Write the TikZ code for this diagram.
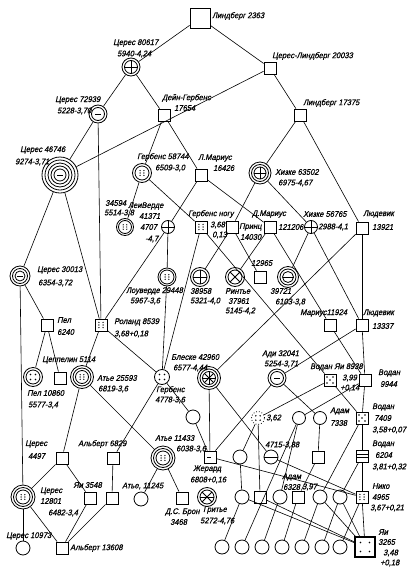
\documentclass[tikz,border=0pt]{standalone}
\usepackage{fontspec}
\newfontfamily\lblfont[FakeSlant=0.22,FakeStretch=0.92,FakeBold=0.6]{Liberation Sans}
\newcommand\ringsAt[2]{\foreach \rr in {#2}{\draw[thick] (#1.center) circle[radius=\rr pt];}}
\newcommand\crossAt[2]{\draw[thick] ([yshift=#2pt]#1.center) -- ([yshift=-#2pt]#1.center) ([xshift=#2pt]#1.center) -- ([xshift=-#2pt]#1.center);}
\newcommand\xAt[2]{\draw[thick] ([shift={(#2,#2)}]#1.center) -- ([shift={(-#2,-#2)}]#1.center) ([shift={(#2,-#2)}]#1.center) -- ([shift={(-#2,#2)}]#1.center);}
\newcommand\dashAt[2]{\draw[thick] ([xshift=-#2pt]#1.center) -- ([xshift=#2pt]#1.center);}
\newcommand\dotsFour[2]{\foreach \a/\b in {1/1,1/-1,-1/1,-1/-1}{\fill ([shift={(\a*#2,\b*#2)}]#1.center) circle[radius=0.8pt];}}
\newcommand\dotsSix[2]{\foreach \a in {-1,1}{\foreach \b in {-1,0,1}{\fill ([shift={(\a*#2*0.8,\b*#2)}]#1.center) circle[radius=0.7pt];}}}
\newcommand\dotsFive[2]{\dotsFour{#1}{#2}\fill (#1.center) circle[radius=0.8pt];}
\newcommand\lab[4]{\node[lb] (#1) at (#2,#3) {#4};}
\begin{document}
\begin{tikzpicture}[x=1pt,y=-1pt,
  every node/.style={inner sep=0pt},
  sq/.style={draw, thick, rectangle, minimum size=12pt},
  cir/.style={draw, thick, circle, minimum size=#1},
  lb/.style={font=\lblfont\fontsize{8.2}{9}\selectfont, anchor=west},
  ln/.style={line width=0.6pt}]
\useasboundingbox[fill=white] (0,0) rectangle (411,573);

% ---------- symbols ----------
\node[draw, thick, rectangle, minimum size=20pt] (L2363) at (200,18) {};
\node[cir=18pt] (C80617) at (131,67) {}; \ringsAt{C80617}{6.5}\crossAt{C80617}{6.5}
\node[sq] (CL20033) at (270,68) {};
\node[cir=18pt] (C72939) at (98,114) {}; \ringsAt{C72939}{6.5}\dashAt{C72939}{3}
\node[sq] (DG17654) at (164,115) {};
\node[sq] (L17375) at (300,115) {};
\node[cir=36pt] (C46746) at (60,175) {}; \ringsAt{C46746}{15,12,9,6}\dashAt{C46746}{3}
\node[cir=19pt] (G58744) at (142,173) {}; \ringsAt{G58744}{7}\dotsSix{G58744}{2.4}
\node[sq] (LM16426) at (201,175) {};
\node[cir=22pt] (H63502) at (260,173) {}; \ringsAt{H63502}{8.5,6}\crossAt{H63502}{6}
\node[cir=17pt] (N34594) at (125,227) {}; \ringsAt{N34594}{6.5}\dotsSix{N34594}{2.2}
\node[cir=13pt] (LV41371) at (168,227) {}; \crossAt{LV41371}{6.5}
\node[sq] (GN) at (201,227) {}; \dotsSix{GN}{2.6}
\node[sq] (Prinz) at (232,227) {};
\node[sq] (DM121206) at (270,227) {};
\node[cir=13pt] (X56765) at (311,227) {}; \crossAt{X56765}{6.5}
\node[sq] (L13921) at (362,228) {};
\node[cir=18pt] (L29448) at (167,277) {}; \ringsAt{L29448}{7}\dotsSix{L29448}{2.3}
\node[cir=19pt] (N38958) at (200,277) {}; \ringsAt{N38958}{7}\crossAt{N38958}{7}
\node[cir=19pt] (R37961) at (235,277) {}; \ringsAt{R37961}{7}\xAt{R37961}{5}
\node[sq] (N12965) at (260,277) {};
\node[cir=21pt] (N39721) at (288,277) {}; \ringsAt{N39721}{8,5.5}\dashAt{N39721}{5.5}
\node[cir=20pt] (C30013) at (20,276) {}; \ringsAt{C30013}{7.5,5}\dashAt{C30013}{3}
\node[sq] (P6240) at (47,325) {};
\node[sq] (R8539) at (101,325) {}; \dotsSix{R8539}{2.6}
\node[sq] (M11924) at (330,325) {};
\node[sq] (L13337) at (362,325) {};
\node[sq] (Z5114) at (60,378) {};
\node[cir=19pt] (P10860) at (33,377) {}; \ringsAt{P10860}{7}\dotsFour{P10860}{2.5}
\node[cir=23pt] (A25593) at (82,377) {}; \ringsAt{A25593}{9,6.5}\dotsSix{A25593}{2.3}
\node[cir=15pt] (G4778) at (162,377) {}; \dotsFour{G4778}{2.5}
\node[cir=23pt] (B42960) at (209,378) {}; \ringsAt{B42960}{9,6.5}\crossAt{B42960}{6.5}\xAt{B42960}{4.6}
\node[cir=18pt] (A32041) at (277,378) {}; \ringsAt{A32041}{6.5}\dashAt{A32041}{3}
\node[sq] (VY8938) at (330,380) {}; \dotsFive{VY8938}{3}
\node[sq] (V9944) at (365,380) {};
\node[circle, draw, thick, dotted, minimum size=13pt] (N362) at (258,418) {}; \dotsFour{N362}{2.2}
\node[cir=14pt] (c193) at (193,417) {};
\node[cir=13pt] (c299) at (299,418) {};
\node[cir=13pt] (c320) at (320,418) {};
\node[sq] (V7409) at (362,418) {}; \dotsFive{V7409}{3}
\node[sq] (C4497) at (62,458) {};
\node[sq] (A6829) at (113,458) {};
\node[cir=24pt] (A11433) at (163,458) {}; \ringsAt{A11433}{9.5,7}\dotsSix{A11433}{2.4}
\node[sq] (Jerard) at (210,457) {}; \draw[thick] ([xshift=-3pt]Jerard.center) -- ([xshift=1pt]Jerard.center);
\node[cir=14pt] (c240) at (240,457) {};
\node[cir=14pt] (c271) at (271,457) {}; \dashAt{c271}{7}
\node[sq] (s318) at (318,457) {};
\node[sq] (V6204) at (362,456) {};
\draw[thick] ([shift={(-6,-1.5)}]V6204.center) -- ([shift={(6,-1.5)}]V6204.center) ([shift={(-6,1.5)}]V6204.center) -- ([shift={(6,1.5)}]V6204.center);
\node[cir=24pt] (C12801) at (23,497) {}; \ringsAt{C12801}{9.5,7}\dotsSix{C12801}{2.3}
\node[sq] (Y3548) at (90,498) {};
\node[sq] (s112) at (112,498) {};
\node[cir=14pt] (c11245) at (141,499) {};
\node[sq] (DS3468) at (182,498) {};
\node[cir=19pt] (Gr5272) at (207,497) {}; \ringsAt{Gr5272}{7}\xAt{Gr5272}{4.8}\dashAt{Gr5272}{7}
\node[cir=14pt] (c242) at (242,497) {};
\node[sq] (s260) at (260,497) {};
\node[cir=14pt] (c280) at (280,497) {};
\node[sq] (s298) at (298,497) {};
\node[cir=14pt] (c320b) at (320,497) {};
\node[cir=14pt] (c340) at (340,497) {};
\node[sq] (Niko) at (362,497) {}; \dotsSix{Niko}{2.6}
\node[cir=14pt] (C10973) at (23,548) {};
\node[sq] (A13608) at (62,548) {};
\node[cir=14pt] (b1) at (222,547) {};
\node[cir=14pt] (b2) at (242,547) {};
\node[cir=14pt] (b3) at (262,547) {};
\node[cir=14pt] (b4) at (282,547) {};
\node[cir=14pt] (b5) at (302,547) {};
\node[cir=14pt] (b6) at (322,547) {};
\node[cir=14pt] (b7) at (340,547) {};
\node[draw, very thick, rectangle, minimum size=20pt] (Yi3265) at (365,547) {}; \dotsFour{Yi3265}{4.5}

% ---------- connectors ----------
\foreach \a/\b in {L2363/C80617, L2363/CL20033, C80617/C72939, C80617/DG17654,
  CL20033/C46746, CL20033/L17375, C72939/C46746, C72939/R8539,
  DG17654/G58744, DG17654/LM16426, L17375/H63502, L17375/L13921,
  C46746/C30013, C46746/R8539, G58744/N34594, G58744/GN,
  LM16426/LV41371, LM16426/DM121206, H63502/Prinz, H63502/X56765,
  LV41371/L29448, LV41371/R8539, Prinz/N12965, Prinz/N38958,
  DM121206/R37961, DM121206/M11924, X56765/N39721, X56765/L13337,
  L13921/L13337, L13921/B42960, L13337/V9944, L13337/A32041,
  M11924/V9944, V9944/V7409, V7409/V6204, V6204/Niko, Niko/Yi3265,
  GN/VY8938, GN/G4778, L29448/G4778,
  C30013/P6240, C30013/C12801, P6240/P10860, P6240/Z5114,
  R8539/A25593, R8539/G4778, A25593/C4497, A25593/A11433,
  G4778/A6829, G4778/c193, c193/Jerard, B42960/Jerard, B42960/c271,
  A32041/Jerard, A32041/c320, VY8938/V7409, VY8938/N362, V9944/c299,
  N362/s260, N362/c240, c320/s318, s318/s298, c271/Niko, Jerard/Niko,
  c240/c242, C4497/C12801, C4497/Y3548, A6829/s112, C12801/A13608,
  Y3548/A13608, s112/A13608, C12801/C10973, A11433/DS3468, A11433/c11245,
  c299/c280, V6204/c340, V7409/c320b,
  c242/Yi3265, s260/Yi3265, c320b/Yi3265, c340/Yi3265,
  b1/c242, b2/c299, b3/c280, b4/s298, b5/c320b, b6/c340, b7/Niko}
  {\draw[ln] (\a) -- (\b);}

% ---------- labels ----------
\lab{t1}{212}{16}{Линдберг 2363}
\lab{t2}{113}{43}{Церес 80617}
\lab{t3}{117}{54}{5940-4,24}
\lab{t4}{272}{56}{Церес-Линдберг 20033}
\lab{t5}{55}{100}{Церес 72939}
\lab{t6}{57}{111}{5228-3,70}
\lab{t7}{162}{98}{Дейн-Гербенс}
\lab{t8}{174}{108}{17654}
\lab{t9}{303}{103}{Линдберг 17375}
\lab{t10}{20}{150}{Церес 46746}
\lab{t11}{15}{162}{9274-3,71}
\lab{t12}{137}{157}{Гербенс 58744}
\lab{t13}{155}{168}{6509-3,0}
\lab{t14}{198}{158}{Л.Мариус}
\lab{t15}{213}{168}{16426}
\lab{t16}{275}{172}{Хизке 63502}
\lab{t17}{278}{183}{6975-4,67}
\lab{t18}{105}{203}{34594}
\lab{t19}{104}{213}{5514-3,8}
\lab{t20}{128}{206}{ЛеиВерде}
\lab{t21}{139}{216}{41371}
\lab{t22}{140}{227}{4707}
\lab{t23}{145}{239}{-4,7}
\lab{t24}{188}{214}{Гербенс ногу}
\lab{t25}{210}{225}{3,68}
\lab{t26}{212}{235}{0,13}
\lab{t27}{239}{227}{Принц}
\lab{t28}{240}{237}{14030}
\lab{t29}{252}{214}{Д.Мариус}
\lab{t30}{278}{227}{121206}
\lab{t31}{303}{214}{Хизке 56765}
\lab{t32}{318}{227}{2988-4,1}
\lab{t33}{363}{214}{Людевик}
\lab{t34}{372}{227}{13921}
\lab{t35}{126}{291}{Лоуверде 29448}
\lab{t36}{130}{301}{5967-3,6}
\lab{t37}{190}{291}{38958}
\lab{t38}{190}{301}{5321-4,0}
\lab{t39}{225}{291}{Ринтье}
\lab{t40}{228}{301}{37961}
\lab{t41}{225}{311}{5145-4,2}
\lab{t42}{251}{263}{12965}
\lab{t43}{270}{291}{39721}
\lab{t44}{275}{302}{6103-3,8}
\lab{t45}{300}{313}{Мариус11924}
\lab{t46}{363}{313}{Людевик}
\lab{t47}{372}{326}{13337}
\lab{t48}{37}{270}{Церес 30013}
\lab{t49}{38}{283}{6354-3,72}
\lab{t50}{114}{322}{Роланд 8539}
\lab{t51}{114}{334}{3,68+0,18}
\lab{t52}{57}{320}{Пел}
\lab{t53}{57}{332}{6240}
\lab{t54}{42}{360}{Цеппелин 5114}
\lab{t55}{27}{393}{Пел 10860}
\lab{t56}{28}{405}{5577-3,4}
\lab{t57}{97}{378}{Атье 25593}
\lab{t58}{98}{389}{6819-3,6}
\lab{t59}{156}{390}{Гербенс}
\lab{t60}{155}{400}{4778-3,6}
\lab{t61}{171}{357}{Блеске 42960}
\lab{t62}{173}{368}{6577-4,44}
\lab{t63}{262}{354}{Ади 32041}
\lab{t64}{264}{364}{5254-3,71}
\lab{t65}{310}{367}{Водан Яи 8938}
\lab{t66}{342}{378}{3,99}
\lab{t67}{340}{388}{+0,14}
\lab{t68}{378}{373}{Водан}
\lab{t69}{380}{384}{9944}
\lab{t70}{266}{418}{3,62}
\lab{t71}{330}{411}{Адам}
\lab{t72}{330}{423}{7338}
\lab{t73}{372}{407}{Водан}
\lab{t74}{374}{418}{7409}
\lab{t75}{372}{430}{3,58+0,07}
\lab{t76}{25}{444}{Церес}
\lab{t77}{28}{456}{4497}
\lab{t78}{78}{444}{Альберт 6829}
\lab{t79}{155}{438}{Атье 11433}
\lab{t80}{176}{449}{6038-3,6}
\lab{t81}{193}{469}{Жерард}
\lab{t82}{190}{480}{6808+0,16}
\lab{t83}{265}{445}{4715-3,88}
\lab{t84}{372}{444}{Водан}
\lab{t85}{375}{455}{6204}
\lab{t86}{372}{467}{3,81+0,32}
\lab{t87}{40}{491}{Церес}
\lab{t88}{40}{501}{12801}
\lab{t89}{48}{513}{6482-3,4}
\lab{t90}{73}{485}{Яи 3548}
\lab{t91}{122}{486}{Атье, 11245}
\lab{t92}{165}{512}{Д.С. Брон}
\lab{t93}{170}{522}{3468}
\lab{t94}{203}{510}{Гритье}
\lab{t95}{200}{521}{5272-4,76}
\lab{t96}{282}{477}{Адам}
\lab{t97}{283}{487}{6328}
\lab{t98}{302}{487}{3,97}
\lab{t99}{372}{486}{Нико}
\lab{t100}{372}{497}{4965}
\lab{t101}{370}{508}{3,67+0,21}
\lab{t102}{6}{536}{Церес 10973}
\lab{t103}{70}{548}{Альберт 13608}
\lab{t104}{378}{532}{Яи}
\lab{t105}{378}{542}{3265}
\lab{t106}{383}{553}{3,48}
\lab{t107}{380}{563}{+0,18}
\end{tikzpicture}
\end{document}
